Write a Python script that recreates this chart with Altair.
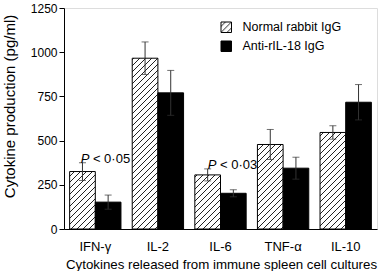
import altair as alt
import pandas as pd
import jinja2

cats = ["IFN-γ", "IL-2", "IL-6", "TNF-α", "IL-10"]
groups = ["Normal rabbit IgG", "Anti-rIL-18 IgG"]
normal = [325, 966, 306, 478, 546]
normal_err = [50, 92, 34, 85, 38]
anti = [152, 770, 202, 344, 717]
anti_err = [40, 127, 20, 62, 100]
yticks = [0, 250, 500, 750, 1000, 1250]
ann_cats = ["IFN-γ", "IL-6"]
ann_text = ["< 0·05", "< 0·03"]
ann_y = [376, 342]
ann_dx = [-6, -4]

rows = []
for i, c in enumerate(cats):
    rows.append(dict(cytokine=c, group=groups[0], value=normal[i], err=normal_err[i]))
    rows.append(dict(cytokine=c, group=groups[1], value=anti[i], err=anti_err[i]))
df = pd.DataFrame(rows)
df["lo"] = df["value"] - df["err"]
df["hi"] = df["value"] + df["err"]

FONT = "Liberation Sans"

xscale = alt.Scale(domain=cats, paddingInner=0.18, paddingOuter=0.09)
x = alt.X(
    "cytokine:N", sort=cats, scale=xscale,
    axis=alt.Axis(
        title="Cytokines released from immune spleen cell cultures",
        labelAngle=0, ticks=False, labelPadding=11, labelBaseline="top",
        labelFontSize=13, titleFontSize=13.3, titleFontWeight="normal",
        titleX=157, titleAlign="center",
        titleY=39, titleBaseline="alphabetic", domainColor="black",
        labelColor="black", titleColor="black", labelFont=FONT, titleFont=FONT,
    ),
)
xs = alt.X("cytokine:N", sort=cats, scale=xscale)
xo = alt.XOffset("group:N", sort=groups, scale=alt.Scale(domain=groups))
yscale = alt.Scale(domain=[0, 1250])
y = alt.Y(
    "value:Q", scale=yscale,
    axis=alt.Axis(
        values=yticks, format="d", title="Cytokine production (pg/ml)", grid=False,
        labelFontSize=12, titleFontSize=15, titleFontWeight="normal",
        tickSize=5, labelPadding=2, domainColor="black", tickColor="black",
        labelColor="black", titleColor="black", labelFont=FONT, titleFont=FONT,
        titleX=-55, titleY=98, titleAlign="center", titleBaseline="middle",
    ),
)

base = alt.Chart(df)
bars = base.mark_bar(stroke="black", strokeWidth=1).encode(
    x=x, xOffset=xo, y=y,
    fill=alt.Fill(
        "group:N", sort=groups,
        scale=alt.Scale(domain=groups, range=["url(#hatch)", "black"]),
        legend=alt.Legend(
            title=None, orient="none", legendX=156, legendY=13,
            symbolType="square", symbolSize=110, symbolStrokeColor="black",
            symbolStrokeWidth=1, labelFontSize=12.5, labelFont=FONT,
            labelColor="black", rowPadding=4, labelOffset=10, padding=0,
        ),
    ),
)
err = base.mark_rule(color="#333", strokeWidth=1).encode(
    x=xs, xOffset=xo, y=alt.Y("lo:Q", scale=yscale), y2="hi:Q"
)
cap_hi = base.mark_tick(color="#333", size=7, thickness=1, orient="horizontal").encode(
    x=xs, xOffset=xo, y=alt.Y("hi:Q", scale=yscale)
)
cap_lo = base.mark_tick(color="#333", size=7, thickness=1, orient="horizontal").encode(
    x=xs, xOffset=xo, y=alt.Y("lo:Q", scale=yscale)
)

layers = [bars, err, cap_hi, cap_lo]
for c, t, yy, dx in zip(ann_cats, ann_text, ann_y, ann_dx):
    adf = pd.DataFrame({"cytokine": [c], "ypos": [yy], "label": [t]})
    layers.append(
        alt.Chart(adf).mark_text(text="P", fontStyle="italic", align="right", dx=dx,
                                 baseline="alphabetic", fontSize=13, font=FONT, color="black")
        .encode(x=xs, y=alt.Y("ypos:Q", scale=yscale))
    )
    layers.append(
        alt.Chart(adf).mark_text(align="left", dx=dx + 3.6, baseline="alphabetic",
                                 fontSize=13, font=FONT, color="black")
        .encode(x=xs, y=alt.Y("ypos:Q", scale=yscale), text="label:N")
    )

chart = alt.layer(*layers).properties(
    width=313, height=221,
    autosize=alt.AutoSizeParams(type="none"),
    padding={"left": 64, "top": 8, "right": 2, "bottom": 42},
).configure_view(stroke=None).configure(background="white")

TEMPLATE = jinja2.Template("""<!DOCTYPE html>
<html>
<head>
  <meta charset="utf-8">
  <style>
    body { margin: 0; }
  </style>
  <script type="text/javascript" src="{{ base_url }}/vega@{{ vega_version }}"></script>
  <script type="text/javascript" src="{{ base_url }}/vega-lite@{{ vegalite_version }}"></script>
  <script type="text/javascript" src="{{ base_url }}/vega-embed@{{ vegaembed_version }}"></script>
</head>
<body>
  <svg width="0" height="0" style="position:absolute">
    <defs>
      <pattern id="hatch" patternUnits="userSpaceOnUse" width="6" height="6">
        <rect width="6" height="6" fill="white"/>
        <path d="M-1,1 l2,-2 M0,6 l6,-6 M5,7 l2,-2" stroke="#222" stroke-width="1"/>
      </pattern>
    </defs>
  </svg>
  <div id="{{ output_div }}"></div>
  <script type="text/javascript">
    (function(vegaEmbed) {
      var spec = {{ spec }};
      var embedOpt = {{ embed_options }};
      var el = document.getElementById('{{ output_div }}');
      vegaEmbed(el, spec, embedOpt).catch(function(error) {
        el.innerHTML = '<pre>' + error + '</pre>';
      });
    })(vegaEmbed);
  </script>
</body>
</html>
""")

chart.save("out.html", embed_options={"renderer": "svg", "actions": False}, template=TEMPLATE)
